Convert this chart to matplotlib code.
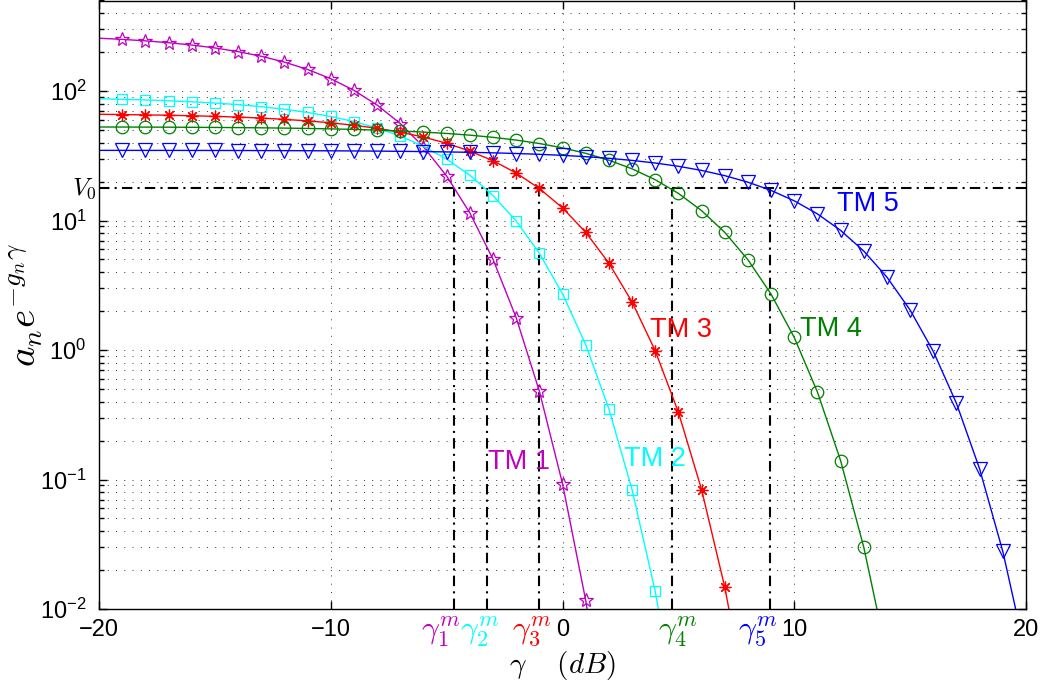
import matplotlib
matplotlib.use('Agg')
from matplotlib import pyplot as plt
from matplotlib.ticker import LogLocator, NullFormatter, NullLocator, FixedLocator

plt.rcParams['font.family'] = ['Liberation Sans', 'DejaVu Sans']
plt.rcParams['mathtext.fontset'] = 'cm'

# gamma in dB, one point per dB starting at -20 (markers drawn from -19)
gamma_db = list(range(-20, 21))

tm1 = [255.7, 250.5, 244.0, 236.1, 226.6, 215.1, 201.5, 185.5, 167.2, 146.7,
       124.5, 101.2, 77.9, 56.1, 37.1, 22.06, 11.46, 5.02, 1.78, 0.482,
       0.0929, 0.0117, 0.00086]
tm2 = [87.1, 86.3, 85.3, 84.1, 82.6, 80.7, 78.5, 75.7, 72.3, 68.3,
       63.6, 58.1, 51.8, 44.9, 37.4, 29.8, 22.4, 15.6, 9.91, 5.59,
       2.72, 1.10, 0.352, 0.0836, 0.0137, 0.00141]
tm3 = [66.1, 65.8, 65.4, 65.0, 64.4, 63.7, 62.9, 61.8, 60.4, 58.8,
       56.8, 54.4, 51.5, 48.1, 44.1, 39.5, 34.4, 28.95, 23.28, 17.69,
       12.52, 8.11, 4.69, 2.353, 0.988, 0.331, 0.0837, 0.0148, 0.00167]
tm4 = [52.75, 52.70, 52.64, 52.56, 52.45, 52.33, 52.17, 51.97, 51.71, 51.40,
       51.00, 50.51, 49.90, 49.14, 48.19, 47.03, 45.61, 43.89, 41.80, 39.32,
       36.41, 33.04, 29.24, 25.08, 20.66, 16.20, 11.92, 8.10, 4.98, 2.70,
       1.250, 0.474, 0.140, 0.0300, 0.00434]
tm5 = [34.81, 34.80, 34.79, 34.78, 34.76, 34.74, 34.72, 34.68, 34.64, 34.59,
       34.53, 34.45, 34.35, 34.22, 34.06, 33.86, 33.62, 33.31, 32.92, 32.44,
       31.85, 31.12, 30.22, 29.12, 27.80, 26.23, 24.37, 22.21, 19.77, 17.07,
       14.19, 11.25, 8.39, 5.81, 3.651, 2.036, 0.976, 0.387, 0.1206, 0.0278,
       0.00439]

v0 = 17.7
gamma_m = [-4.67, -3.25, -1.03, 4.73, 8.97]
gamma_m_labels = [r'$\gamma_1^m$', r'$\gamma_2^m$', r'$\gamma_3^m$', r'$\gamma_4^m$', r'$\gamma_5^m$']
# the gamma^m labels are hand placed under the axis, not exactly under their line
gamma_m_label_x = [-5.25, -3.55, -1.33, 4.99, 8.41]

series = [tm1, tm2, tm3, tm4, tm5]
names = ['TM 1', 'TM 2', 'TM 3', 'TM 4', 'TM 5']
colors = ['#bf00bf', '#00ffff', '#ff0000', '#008000', '#0000ff']
markers = ['*', 's', (8, 2, 0), 'o', 'v']
msizes = [10, 7, 8.5, 9, 9.5]
# where the "TM n" text sits (dB, value)
label_pos = [(-3.2, 0.136), (2.65, 0.144), (3.78, 1.43), (10.25, 1.45), (11.83, 13.4)]


def setAxes(ax):
    ax.set_xlim(-20, 20)
    ax.set_yscale('log')
    ax.set_ylim(1e-2, 500)
    ax.xaxis.set_major_locator(FixedLocator([-20, -10, 0, 10, 20]))
    ax.xaxis.set_minor_locator(NullLocator())
    ax.yaxis.set_major_locator(LogLocator(base=10))
    ax.yaxis.set_minor_locator(LogLocator(base=10, subs=range(2, 10)))
    ax.yaxis.set_minor_formatter(NullFormatter())
    ax.tick_params(which='both', direction='in', top=True, right=True, width=1)
    ax.tick_params(which='major', length=6, labelsize=17)
    ax.tick_params(which='minor', length=3.5)
    ax.tick_params(axis='x', pad=7)
    ax.tick_params(axis='y', pad=9)
    for s in ax.spines.values():
        s.set_linewidth(1.0)
    grid_style = dict(color='0.2', linestyle=(0, (1, 7.5)), linewidth=0.7)
    ax.grid(True, which='major', axis='both', **grid_style)
    ax.grid(True, which='minor', axis='y', **grid_style)
    ax.set_axisbelow(True)


fig = plt.figure(figsize=(10.43, 6.82), dpi=100)
ax = fig.add_axes([99 / 1043, 1 - 609 / 682, 927 / 1043, 608.5 / 682])
setAxes(ax)

for y, name, c, m, ms, (lx, ly) in zip(series, names, colors, markers, msizes, label_pos):
    x = gamma_db[:len(y)]
    ax.plot(x, y, color=c, lw=1.0, marker=m, markersize=ms, markerfacecolor='none',
            markeredgecolor=c, markeredgewidth=0.9, markevery=slice(1, None))
    ax.text(lx, ly, name, color=c, fontsize=19.5, ha='left', va='center')

# V0 threshold and the gamma^m crossings
dashdot = (0, (5, 2.5, 1, 2.5))
ax.axhline(v0, color='k', lw=1.5, ls=dashdot, zorder=1.5)
for g in gamma_m:
    ax.plot([g, g], [1e-2, v0], color='k', lw=1.5, ls=dashdot, zorder=1.5)

ax.text(-20.1, v0, r'$V_0$', fontsize=18, ha='right', va='center')

for lx, lab, c in zip(gamma_m_label_x, gamma_m_labels, colors):
    ax.text(lx, -0.009, lab, color=c, fontsize=23, ha='center', va='top',
            transform=ax.get_xaxis_transform())

ax.set_xlabel(r'$\gamma\quad\;(dB)$', fontsize=21)
ax.xaxis.set_label_coords(0.5, -0.066)
ax.set_ylabel(r'$a_n e^{-g_n\gamma}$', fontsize=28)
ax.yaxis.set_label_coords(-0.058, 0.5)

fig.savefig('out.png', dpi=100)
